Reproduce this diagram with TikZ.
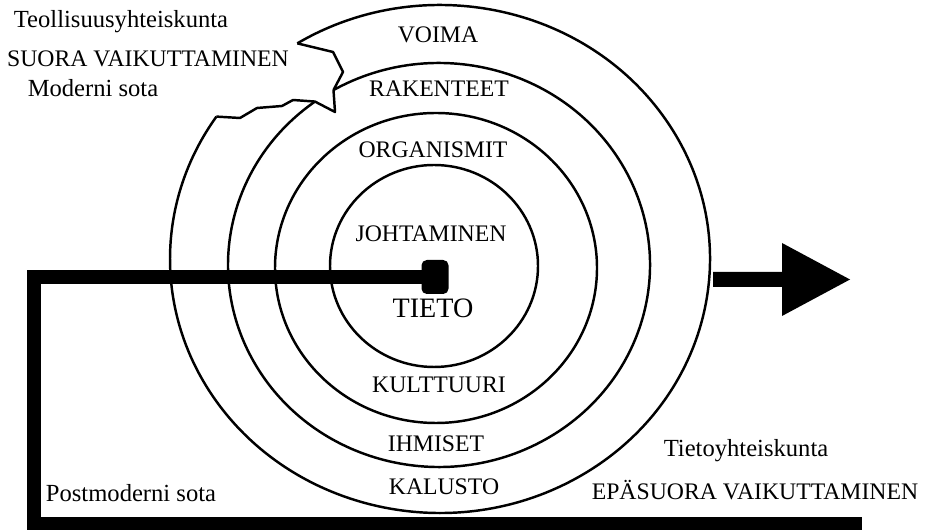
\documentclass[tikz,border=0pt]{standalone}
\usepackage{fontspec}
\setmainfont{Liberation Serif}
\usepackage{xcolor}
\usetikzlibrary{arrows.meta,calc,positioning}
\definecolor{Ink}{HTML}{000000}

\begin{document}
\begin{tikzpicture}[x=0.02cm,y=0.02cm,>=Latex,
  ring/.style={Ink,line width=1.4pt},
  band/.style={Ink,line width=7.6pt},
  caps/.style={Ink,font=\fontsize{13.5}{16}\selectfont,anchor=base},
  words/.style={Ink,font=\fontsize{14}{17}\selectfont,anchor=base}]
  \useasboundingbox (0,0) rectangle (932,530);
  \coordinate (c1) at (434,264);
  \coordinate (c2) at (436,262);
  \coordinate (c3) at (439,265);
  \coordinate (c4) at (440,271);
  \draw[ring] (c1) ellipse[x radius=104,y radius=101];
  \draw[ring] (c2) ellipse[x radius=161,y radius=155];
  \draw[ring] ($(c3)+(120:211 and 202)$) coordinate (r3a)
    arc[start angle=120,end angle=-234,x radius=211,y radius=202] coordinate (r3b);
  \draw[ring] ($(c4)+(121.9:270 and 254)$) coordinate (r4a)
    arc[start angle=121.9,end angle=-214.1,x radius=270,y radius=254] coordinate (r4b);
  \draw[ring,line join=round] (r4a) -- (333,478) -- (343,458) -- (r3a);
  \draw[ring,line join=round] (r4b) -- (240,412) -- (257,422) -- (282,424)
    -- (293,430) -- (r3b) -- (335,418) -- (r3a);
  \node[fill=Ink,rounded corners=3pt,inner sep=0pt,minimum width=0.54cm,
    minimum height=0.68cm] (hub) at (435,253) {};
  \coordinate (bend) at (34,253);
  \coordinate (tail) at (862,6.5);
  \draw[band] (hub.center) -- (bend) |- (tail);
  \fill[Ink] (713,258) -- (782,258) -- (782,287) -- (850,250.5)
    -- (782,214) -- (782,243) -- (713,243) -- cycle;
  \node[words] (teoll) at (121,502) {Teollisuusyhteiskunta};
  \node[caps] (suora) at (148,463) {SUORA VAIKUTTAMINEN};
  \node[words] (moderni) at (93,433) {Moderni sota};
  \node[caps] (voima) at (438,487) {VOIMA};
  \node[caps] (rakenteet) at (439,433) {RAKENTEET};
  \node[caps] (organismit) at (433,372) {ORGANISMIT};
  \node[caps] (johtaminen) at (431,288) {JOHTAMINEN};
  \node[caps,font=\fontsize{16}{19}\selectfont] (tieto) at (433,212) {TIETO};
  \node[caps] (kulttuuri) at (439,137) {KULTTUURI};
  \node[caps] (ihmiset) at (436,78) {IHMISET};
  \node[caps] (kalusto) at (444,35) {KALUSTO};
  \node[words] (tietoyht) at (746,73) {Tietoyhteiskunta};
  \node[caps] (epasuora) at (755,30) {EPÄSUORA VAIKUTTAMINEN};
  \node[words] (postmod) at (131,28) {Postmoderni sota};
\end{tikzpicture}
\end{document}
